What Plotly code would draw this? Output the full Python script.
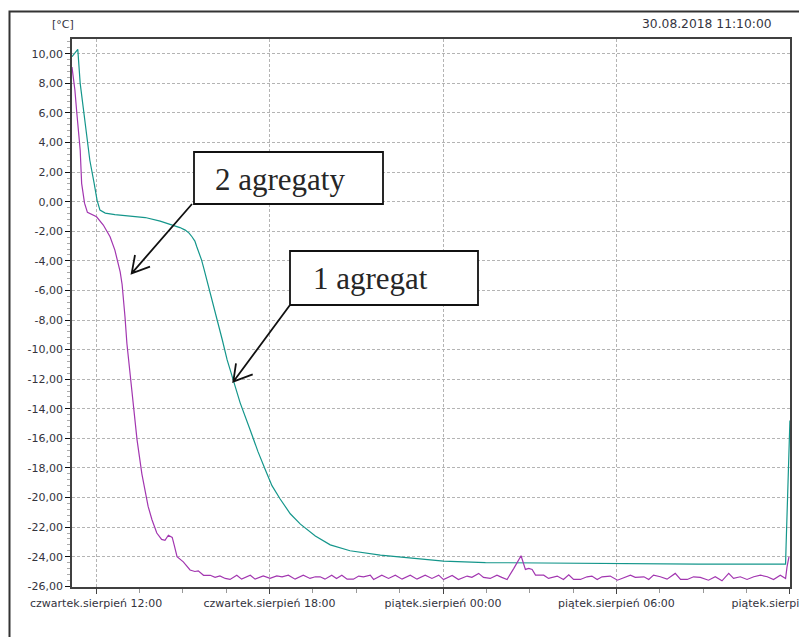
import pandas as pd
import plotly.graph_objects as go

# --- data -------------------------------------------------------------
START = pd.Timestamp("2018-08-30 11:10:00")

# one unit (teal): minutes since start, temperature [°C]
one_unit_min = [0, 12, 17, 27, 37, 46, 52, 58, 69, 89, 120, 152, 183, 210, 224,
                235, 243, 249, 255, 259, 264, 269, 274, 280, 291, 301, 312, 322,
                335, 349, 370, 386, 401, 415, 432, 453, 474, 505, 536, 577, 640,
                702, 771, 858, 940, 1014, 1060, 1110, 1160, 1221, 1300, 1400,
                1481, 1482, 1484, 1486, 1488, 1490]
one_unit_val = [9.8, 10.3, 8.0, 5.5, 2.8, 1.24, 0.1, -0.57, -0.77, -0.87, -0.97,
                -1.07, -1.31, -1.58, -1.75, -1.92, -2.12, -2.37, -2.66, -3.05,
                -3.48, -3.95, -4.56, -5.3, -6.7, -8.0, -9.35, -10.7, -12.18,
                -13.6, -15.45, -16.9, -18.1, -19.2, -20.1, -21.1, -21.8, -22.6,
                -23.2, -23.6, -23.9, -24.07, -24.3, -24.4, -24.42, -24.45, -24.47,
                -24.45, -24.48, -24.5, -24.5, -24.5, -24.5, -23.3, -21.05, -18.8,
                -16.8, -14.8]

# two units (purple): minutes since start, temperature [°C]
two_units_min = [0, 6, 10, 17, 20, 26, 32, 51, 65, 79, 89, 96, 100, 104, 107,
                 110, 114, 120, 127, 135, 145, 158, 166, 176, 186, 193, 200, 208,
                 212, 218, 231, 245, 255, 262, 273, 287, 297, 307, 318, 328, 342,
                 352, 370, 380, 397, 411, 425, 436, 449, 463, 480, 494, 505, 515,
                 525, 539, 549, 560, 571, 584, 595, 605, 619, 626, 643, 657, 671,
                 685, 702, 716, 733, 747, 761, 771, 789, 802, 820, 830, 844, 854,
                 868, 882, 892, 903, 917, 932, 941, 948, 955, 962, 979, 989, 1007,
                 1020, 1031, 1041, 1055, 1069, 1079, 1090, 1100, 1117, 1132, 1145,
                 1159, 1169, 1187, 1197, 1207, 1221, 1235, 1252, 1263, 1277, 1290,
                 1304, 1321, 1335, 1349, 1363, 1373, 1387, 1401, 1415, 1429, 1443,
                 1456, 1470, 1481, 1484, 1488]
two_units_val = [9.1, 7.55, 6.0, 3.5, 1.24, -0.1, -0.72, -1.02, -1.58, -2.37,
                 -3.27, -4.1, -4.75, -5.6, -6.6, -7.8, -9.6, -11.6, -13.87, -16.1,
                 -18.4, -20.6, -21.5, -22.4, -22.83, -22.9, -22.55, -22.7, -23.2,
                 -24.0, -24.35, -24.9, -25.0, -24.96, -25.26, -25.26, -25.4, -25.3,
                 -25.47, -25.54, -25.25, -25.52, -25.25, -25.52, -25.3, -25.47,
                 -25.3, -25.36, -25.25, -25.52, -25.25, -25.47, -25.36, -25.36,
                 -25.52, -25.25, -25.47, -25.25, -25.52, -25.52, -25.31, -25.36,
                 -25.25, -25.54, -25.25, -25.47, -25.25, -25.52, -25.25, -25.52,
                 -25.25, -25.47, -25.25, -25.55, -25.27, -25.55, -25.31, -25.40,
                 -25.13, -25.40, -25.47, -25.25, -25.40, -25.54, -24.79, -23.94,
                 -24.86, -24.79, -24.86, -25.25, -25.25, -25.47, -25.31, -25.54,
                 -25.22, -25.54, -25.54, -25.36, -25.31, -25.54, -25.36, -25.31,
                 -25.59, -25.40, -25.25, -25.40, -25.36, -25.54, -25.25, -25.36,
                 -25.52, -25.13, -25.54, -25.54, -25.36, -25.40, -25.59, -25.36,
                 -25.63, -25.13, -25.47, -25.36, -25.54, -25.36, -25.25, -25.36,
                 -25.54, -25.25, -25.47, -24.69, -24.01]

x_tick_times = ["2018-08-30 12:00", "2018-08-30 18:00", "2018-08-31 00:00",
                "2018-08-31 06:00", "2018-08-31 12:00"]
x_tick_labels = ["czwartek.sierpień 12:00", "czwartek.sierpień 18:00",
                 "piątek.sierpień 00:00", "piątek.sierpień 06:00",
                 "piątek.sierpień 12:00"]
y_tick_vals = list(range(10, -27, -2))
y_tick_labels = [f"{v:.2f}".replace(".", ",") for v in y_tick_vals]

label_one = "1 agregat"
label_two = "2 agregaty"
unit_label = "[°C]"
stamp_label = "30.08.2018 11:10:00"

# --- layout geometry (pixels) ----------------------------------------
W, H = 799, 637
L, R, T, B = 72, 790, 39, 587


def px(x):
    return (x - L) / (R - L)


def py(y):
    return (B - y) / (B - T)


def to_time(minutes):
    return START + pd.to_timedelta(minutes, unit="min")


TEAL = "#14968b"
PURPLE = "#a236b0"
TEXT = "#33333d"
GRID = "#b4b4b4"

fig = go.Figure()
fig.add_trace(go.Scatter(x=to_time(one_unit_min), y=one_unit_val, mode="lines",
                         line=dict(color=TEAL, width=1.2), name=label_one))
fig.add_trace(go.Scatter(x=to_time(two_units_min), y=two_units_val, mode="lines",
                         line=dict(color=PURPLE, width=1.2), name=label_two))

axis_font = dict(family="DejaVu Sans", size=11, color=TEXT)

fig.update_xaxes(
    range=[START, START + pd.Timedelta(minutes=1490, seconds=10)],
    tickmode="array", tickvals=x_tick_times, ticktext=x_tick_labels,
    ticks="outside", ticklen=5, tickcolor="#444", tickfont=axis_font,
    ticklabeloverflow="allow", automargin=False,
    showgrid=True, gridcolor=GRID, griddash="3px,2px", gridwidth=1,
    minor=dict(ticks="outside", ticklen=4, tickcolor="#999",
               tickmode="linear", tick0="2018-08-30 12:00", dtick=5400000,
               showgrid=False),
    showline=True, mirror=True, linecolor="#404040", linewidth=1.5,
    zeroline=False,
)
fig.update_yaxes(
    range=[-26.05, 11.0],
    tickmode="array", tickvals=y_tick_vals, ticktext=y_tick_labels,
    ticks="outside", ticklen=5, tickcolor="#111", tickfont=axis_font,
    automargin=False,
    showgrid=True, gridcolor=GRID, griddash="3px,2px", gridwidth=1,
    minor=dict(ticks="outside", ticklen=3, tickcolor="#aaa",
               tickmode="linear", tick0=0, dtick=0.4, showgrid=False),
    showline=True, mirror=True, linecolor="#404040", linewidth=1.5,
    zeroline=False,
)

shapes = [
    # outer frame
    dict(type="rect", xref="paper", yref="paper",
         x0=px(9.5), y0=py(660), x1=px(830), y1=py(11.5),
         line=dict(color="#333333", width=2), fillcolor="rgba(0,0,0,0)",
         layer="below"),
    # label boxes
    dict(type="rect", xref="paper", yref="paper",
         x0=px(194), y0=py(204), x1=px(383), y1=py(152),
         line=dict(color="#111", width=1.8), fillcolor="white"),
    dict(type="rect", xref="paper", yref="paper",
         x0=px(290), y0=py(305), x1=px(478), y1=py(251),
         line=dict(color="#111", width=1.8), fillcolor="white"),
]


def arrow_path(x0, y0, xt, yt, a1, a2):
    return (f"M {px(x0)} {py(y0)} L {px(xt)} {py(yt)} "
            f"M {px(a1[0])} {py(a1[1])} L {px(xt)} {py(yt)} "
            f"L {px(a2[0])} {py(a2[1])}")


shapes.append(dict(type="path", xref="paper", yref="paper",
                   path=arrow_path(192, 204, 131.7, 273.3, (135, 255), (150, 266.7)),
                   line=dict(color="#111", width=1.8)))
shapes.append(dict(type="path", xref="paper", yref="paper",
                   path=arrow_path(290, 305, 233.3, 381.7, (236, 363.3), (252.7, 374.3)),
                   line=dict(color="#111", width=1.8)))

serif = dict(family="Liberation Serif", size=31, color="#262626")
annotations = [
    dict(text=unit_label, xref="paper", yref="paper", x=px(50), y=py(25),
         xanchor="left", yanchor="middle", showarrow=False,
         font=dict(family="DejaVu Sans", size=11, color=TEXT)),
    dict(text=stamp_label, xref="paper", yref="paper", x=px(774), y=py(24),
         xanchor="right", yanchor="middle", showarrow=False,
         font=dict(family="DejaVu Sans", size=12.3, color=TEXT)),
    dict(text=label_two, xref="paper", yref="paper", x=px(213), y=py(179),
         xanchor="left", yanchor="middle", showarrow=False, font=serif),
    dict(text=label_one, xref="paper", yref="paper", x=px(311), y=py(278),
         xanchor="left", yanchor="middle", showarrow=False, font=serif),
]

fig.update_layout(
    width=W, height=H,
    margin=dict(l=L, r=W - R, t=T, b=H - B, pad=0, autoexpand=False),
    paper_bgcolor="white", plot_bgcolor="white",
    showlegend=False,
    shapes=shapes, annotations=annotations,
)

fig.write_html("out.html")
